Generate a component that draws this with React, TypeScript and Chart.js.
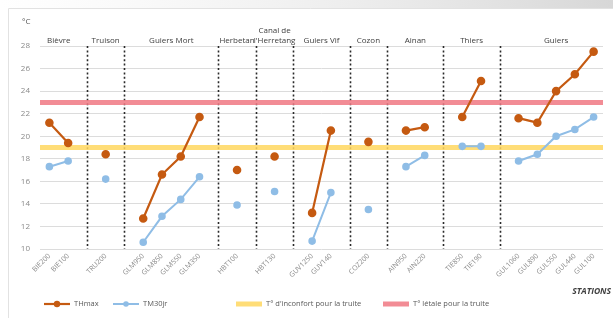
import React, { useEffect, useRef } from 'react';
import { Chart, registerables } from 'chart.js';

Chart.register(...registerables);

// ---- Data ----
const groups = ['Bièvre', 'Truison', 'Guiers Mort', 'Herbetan', "Canal de\nl'Herretang", 'Guiers Vif', 'Cozon', 'Ainan', 'Thiers', 'Guiers'];
const stations = ['BIE200', 'BIE100', 'TRU200', 'GLM950', 'GLM850', 'GLM550', 'GLM350', 'HBT100', 'HBT130', 'GUV1250', 'GUV140', 'COZ200', 'AIN950', 'AIN220', 'TIE850', 'TIE190', 'GUL1060', 'GUL890', 'GUL550', 'GUL440', 'GUL100'];
const stationGroup = [0, 0, 1, 2, 2, 2, 2, 3, 4, 5, 5, 6, 7, 7, 8, 8, 9, 9, 9, 9, 9];
const thMax = [21.2, 19.4, 18.4, 12.7, 16.6, 18.2, 21.7, 17.0, 18.2, 13.2, 20.5, 19.5, 20.5, 20.8, 21.7, 24.9, 21.6, 21.2, 24.0, 25.5, 27.5];
const tm30jr = [17.3, 17.8, 16.2, 10.6, 12.9, 14.4, 16.4, 13.9, 15.1, 10.7, 15.0, 13.5, 17.3, 18.3, 19.1, 19.1, 17.8, 18.4, 20.0, 20.6, 21.7];
const tInconfort = 19;
const tLetale = 23;
const yMin = 10;
const yMax = 28;
const yStep = 2;

const seriesNames = ['THmax', 'TM30jr', "T° d'inconfort pour la truite", 'T° létale pour la truite'];
const seriesColors = ['#C55A11', '#8FBDE6', 'rgba(255,215,95,0.85)', 'rgba(240,120,130,0.85)'];

// ---- Derived positions (one empty slot between groups) ----
const xPos = stations.map((_, i) => i + stationGroup[i]);
const xMin = -0.5;
const xMax = xPos[xPos.length - 1] + 0.5;
const labelAt = new Map<number, string>(xPos.map((x, i) => [x, stations[i]]));

function series(values: number[]) {
  const pts: { x: number; y: number | null }[] = [];
  values.forEach((v, i) => {
    if (i > 0 && stationGroup[i] !== stationGroup[i - 1]) pts.push({ x: xPos[i] - 1, y: null });
    pts.push({ x: xPos[i], y: v });
  });
  return pts;
}

const FONT = "'Open Sans', 'Liberation Sans', sans-serif";
const legendX = [44, 113, 236, 383];
const legendY = 304;

const decorPlugin = {
  id: 'decor',
  beforeDraw(chart: any) {
    const ctx = chart.ctx;
    ctx.save();
    ctx.fillStyle = '#ffffff';
    ctx.fillRect(0, 0, chart.width, chart.height);
    const g = ctx.createLinearGradient(0, 0, chart.width, 0);
    g.addColorStop(0, 'rgba(235,235,235,0)');
    g.addColorStop(0.5, 'rgba(230,230,230,0.6)');
    g.addColorStop(1, 'rgba(215,215,215,1)');
    ctx.fillStyle = g;
    ctx.fillRect(0, 0, chart.width, 8);
    ctx.strokeStyle = '#e2e2e2';
    ctx.lineWidth = 1;
    ctx.beginPath();
    ctx.moveTo(8.5, chart.height);
    ctx.lineTo(8.5, 8.5);
    ctx.lineTo(chart.width, 8.5);
    ctx.stroke();
    ctx.restore();
  },
  beforeDatasetsDraw(chart: any) {
    const ctx = chart.ctx;
    const xs = chart.scales.x;
    const area = chart.chartArea;
    ctx.save();
    ctx.strokeStyle = '#2a2a2a';
    ctx.lineWidth = 1.6;
    ctx.setLineDash([2, 2.4]);
    for (let i = 1; i < stations.length; i++) {
      if (stationGroup[i] !== stationGroup[i - 1]) {
        const px = Math.round(xs.getPixelForValue(xPos[i] - 1)) + 0.5;
        ctx.beginPath();
        ctx.moveTo(px, area.top);
        ctx.lineTo(px, area.bottom);
        ctx.stroke();
      }
    }
    ctx.restore();
  },
  afterDraw(chart: any) {
    const ctx = chart.ctx;
    const xs = chart.scales.x;
    const area = chart.chartArea;
    ctx.save();
    // group labels
    ctx.fillStyle = '#404040';
    ctx.font = `8px ${FONT}`;
    ctx.textAlign = 'center';
    ctx.textBaseline = 'middle';
    groups.forEach((name, g) => {
      const xsOfGroup = xPos.filter((_, i) => stationGroup[i] === g);
      const cx = xs.getPixelForValue(xsOfGroup.reduce((a, b) => a + b, 0) / xsOfGroup.length);
      const lines = name.split('\n');
      lines.forEach((ln, k) => {
        ctx.fillText(ln, cx, area.top - 5 - (lines.length - 1 - k) * 10);
      });
    });
    // unit
    ctx.textAlign = 'left';
    ctx.fillStyle = '#595959';
    ctx.font = `8px ${FONT}`;
    ctx.fillText('°C', 22, 22);
    // axis title
    ctx.textAlign = 'right';
    ctx.font = `italic bold 8.5px ${FONT}`;
    ctx.fillStyle = '#404040';
    ctx.fillText('STATIONS', 611, 292);
    // legend
    ctx.font = `7.5px ${FONT}`;
    ctx.textAlign = 'left';
    chart.data.datasets.forEach((ds: any, i: number) => {
      const x0 = legendX[i];
      const len = 26;
      ctx.strokeStyle = ds.borderColor;
      ctx.lineWidth = ds.borderWidth;
      ctx.beginPath();
      ctx.moveTo(x0, legendY);
      ctx.lineTo(x0 + len, legendY);
      ctx.stroke();
      if (ds.pointRadius > 0) {
        ctx.fillStyle = ds.pointBackgroundColor;
        ctx.beginPath();
        ctx.arc(x0 + len / 2, legendY, ds.pointRadius, 0, Math.PI * 2);
        ctx.fill();
      }
      ctx.fillStyle = '#595959';
      ctx.fillText(ds.label, x0 + len + 4, legendY);
    });
    ctx.restore();
  },
};

export default function App() {
  const ref = useRef<HTMLCanvasElement>(null);
  useEffect(() => {
    if (!ref.current) return;
    const chart = new Chart(ref.current, {
      type: 'line',
      data: {
        datasets: [
          {
            label: seriesNames[0],
            data: series(thMax),
            borderColor: seriesColors[0],
            backgroundColor: seriesColors[0],
            pointBackgroundColor: seriesColors[0],
            pointBorderColor: seriesColors[0],
            borderWidth: 2.2,
            pointRadius: 3.2,
            spanGaps: false,
          },
          {
            label: seriesNames[1],
            data: series(tm30jr),
            borderColor: seriesColors[1],
            backgroundColor: seriesColors[1],
            pointBackgroundColor: seriesColors[1],
            pointBorderColor: seriesColors[1],
            borderWidth: 2,
            pointRadius: 2.8,
            spanGaps: false,
          },
          {
            label: seriesNames[2],
            data: [{ x: xMin, y: tInconfort }, { x: xMax, y: tInconfort }],
            borderColor: seriesColors[2],
            backgroundColor: seriesColors[2],
            borderWidth: 5,
            pointRadius: 0,
          },
          {
            label: seriesNames[3],
            data: [{ x: xMin, y: tLetale }, { x: xMax, y: tLetale }],
            borderColor: seriesColors[3],
            backgroundColor: seriesColors[3],
            borderWidth: 5,
            pointRadius: 0,
          },
        ] as any,
      },
      options: {
        animation: false,
        responsive: false,
        devicePixelRatio: 1,
        layout: { padding: { left: 8, right: 10, top: 46, bottom: 0 } },
        plugins: { legend: { display: false }, tooltip: { enabled: false } },
        scales: {
          x: {
            type: 'linear',
            min: xMin,
            max: xMax,
            afterBuildTicks: (scale: any) => {
              scale.ticks = xPos.map((v) => ({ value: v }));
            },
            afterFit: (scale: any) => {
              scale.height = 69;
            },
            ticks: {
              autoSkip: false,
              minRotation: 45,
              maxRotation: 45,
              padding: 3,
              color: '#8a8a8a',
              font: { family: FONT, size: 7 },
              callback: (value: any) => labelAt.get(Number(value)) ?? '',
            },
            grid: { display: false, drawTicks: false },
            border: { display: false },
          },
          y: {
            min: yMin,
            max: yMax,
            afterFit: (scale: any) => {
              scale.width = 32;
            },
            ticks: {
              stepSize: yStep,
              padding: 10,
              color: '#8a8a8a',
              font: { family: FONT, size: 8 },
            },
            grid: { color: '#dcdcdc', drawTicks: false, lineWidth: 1 },
            border: { display: false },
          },
        },
      } as any,
      plugins: [decorPlugin],
    });
    return () => chart.destroy();
  }, []);
  return (
    <div style={{ position: 'fixed', left: 0, top: 0, width: 613, height: 318 }}>
      <canvas ref={ref} width={613} height={318} style={{ display: 'block', width: 613, height: 318 }} />
    </div>
  );
}
